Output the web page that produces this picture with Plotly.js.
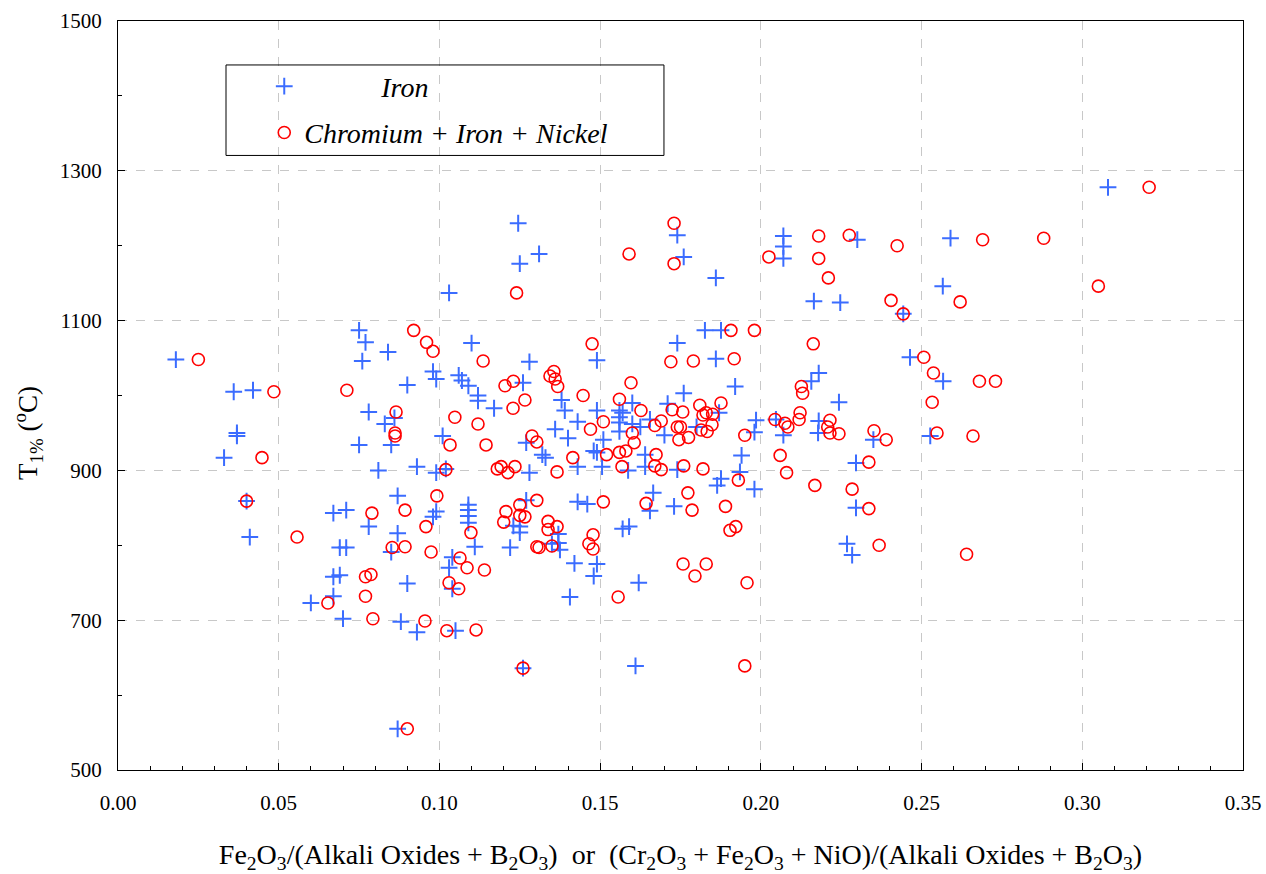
<!DOCTYPE html>
<html>
<head>
<meta charset="utf-8">
<script src="https://cdn.plot.ly/plotly-3.0.1.min.js"></script>
<style>html,body{margin:0;padding:0;background:#fff;}#chart{width:1266px;height:874px;}</style>
</head>
<body>
<div id="chart"></div>
<script>
const ironX = [0.018,0.036,0.042,0.037,0.037,0.033,0.040,0.041,0.060,0.075,0.077,0.076,0.084,0.090,0.078,0.086,0.083,0.075,0.085,0.081,0.093,0.087,0.067,0.071,0.078,0.087,0.069,0.071,0.085,0.067,0.069,0.067,0.070,0.090,0.088,0.087,0.093,0.098,0.099,0.103,0.106,0.107,0.109,0.112,0.112,0.117,0.110,0.101,0.099,0.102,0.099,0.098,0.109,0.109,0.109,0.109,0.111,0.104,0.103,0.104,0.105,0.122,0.123,0.125,0.125,0.1245,0.125,0.131,0.126,0.128,0.127,0.128,0.127,0.132,0.133,0.136,0.138,0.139,0.140,0.143,0.143,0.143,0.146,0.137,0.137,0.1375,0.135,0.142,0.1406,0.126,0.149,0.149,0.151,0.148,0.149,0.1506,0.149,0.148,0.156,0.157,0.156,0.156,0.156,0.160,0.160,0.1625,0.1587,0.157,0.159,0.162,0.161,0.164,0.164,0.1655,0.1665,0.1655,0.170,0.171,0.173,0.174,0.174,0.176,0.174,0.176,0.186,0.1826,0.1876,0.186,0.192,0.187,0.180,0.194,0.1935,0.1876,0.1864,0.1985,0.198,0.198,0.207,0.207,0.207,0.2047,0.207,0.2165,0.2157,0.218,0.218,0.2178,0.2247,0.2243,0.230,0.2296,0.2296,0.2268,0.2284,0.235,0.2443,0.2464,0.2527,0.2566,0.2567,0.259,0.308];
const ironY = [1048,1005,1007,950,946,917,859,811,723,1087,1071,1046,1058,1014,978,970,962,934,934,900,905,866,843,847,825,816,797,797,791,758,760,732,702,749,698,555,684,1032,1022,1137,1027,1020,1013,1000,993,983,1070,946,897,902,845,838,854,847,839,830,798,784,770,742,686,797,826,825,817,1230,1176,1189,1017,1045,937,897,860,921,917,955,994,980,943,965,905,858,855,815,803,794,802,776,731,636,1047,980,941,926,924,905,775,759,980,977,971,964,952,990,962,958,900,822,825,750,639,921,905,968,870,846,947,989,852,901,1214,1185,1070,1003,1157,1087,1087,1049,1012,977,958,920,898,889,880,967,951,875,1213,1199,1183,968,947,1126,1019,1030,966,950,1124,991,1208,910,850,802,787,941,1109,1051,946,1146,1019,1210,1278];

const chromX = [0.025,0.0485,0.0448,0.040,0.0557,0.0712,0.092,0.0865,0.0862,0.0862,0.079,0.0893,0.0853,0.0893,0.077,0.0787,0.077,0.0653,0.0793,0.090,0.096,0.098,0.1136,0.124,0.1048,0.112,0.1033,0.1145,0.102,0.0992,0.0958,0.0974,0.1098,0.1064,0.1086,0.114,0.103,0.106,0.0955,0.1023,0.1114,0.1204,0.123,0.1229,0.1266,0.118,0.1192,0.1213,0.1235,0.120,0.1207,0.125,0.125,0.1266,0.1288,0.1303,0.1303,0.1303,0.131,0.1344,0.1356,0.136,0.1368,0.1366,0.1338,0.1338,0.1366,0.135,0.1415,0.1447,0.147,0.1475,0.151,0.151,0.152,0.1478,0.1465,0.1478,0.126,0.156,0.156,0.158,0.1568,0.1596,0.1627,0.160,0.1606,0.159,0.1556,0.1643,0.1674,0.167,0.169,0.167,0.169,0.1724,0.174,0.1745,0.173,0.173,0.172,0.175,0.1757,0.181,0.1876,0.183,0.185,0.182,0.1848,0.1814,0.1833,0.1775,0.176,0.182,0.1773,0.1786,0.189,0.1904,0.1922,0.1758,0.183,0.1795,0.1957,0.195,0.179,0.1907,0.198,0.1917,0.195,0.193,0.2025,0.2044,0.2075,0.2084,0.206,0.208,0.2163,0.2126,0.213,0.2122,0.2119,0.2168,0.218,0.218,0.221,0.2215,0.2208,0.2215,0.2243,0.2275,0.2284,0.2352,0.239,0.2336,0.2336,0.2368,0.2424,0.2405,0.2443,0.2507,0.2533,0.2537,0.2548,0.262,0.266,0.264,0.268,0.273,0.269,0.288,0.305,0.3208];
const chromY = [1048,1005,917,859,811,1007,1087,978,950,946,843,847,797,798,758,761,732,723,702,555,1071,1059,1046,1137,971,962,934,934,901,866,825,791,817,783,770,767,750,742,699,686,687,1013,1019,983,994,902,905,897,905,831,845,854,840,838,946,938,860,798,797,1026,1032,1022,1012,898,832,821,825,799,917,1000,955,1069,965,858,921,814,802,795,636,995,924,926,905,1017,980,950,937,1189,731,856,921,906,901,960,966,981,958,941,1230,1176,1045,958,978,987,990,977,975,974,961,954,952,944,906,902,870,847,852,820,825,775,775,759,750,639,1046,1087,1087,1049,947,887,1185,968,963,958,920,897,1069,1012,1003,977,968,880,1213,1183,1157,967,958,950,949,1214,875,953,941,911,849,800,1200,1127,1109,1051,991,1030,950,1125,946,788,1019,1019,1208,1210,1146,1278];

const seriesNames = ['\u00A0'.repeat(11) + 'Iron', 'Chromium + Iron + Nickel'];
const xTickVals = [0,0.05,0.10,0.15,0.20,0.25,0.30,0.35];
const xTickText = ['0.00','0.05','0.10','0.15','0.20','0.25','0.30','0.35'];
const yTickVals = [500,700,900,1100,1300,1500];

const FONT = 'Liberation Serif, Times New Roman, serif';

const traces = [
  {x: ironX, y: ironY, type: 'scatter', mode: 'markers', name: seriesNames[0], legendgroup: 'a',
   marker: {symbol: 'cross-thin-open', size: 12, color: '#3b6cff', line: {color: '#3b6cff', width: 2}}},
  {x: chromX, y: chromY, type: 'scatter', mode: 'markers', name: seriesNames[1], legendgroup: 'b',
   marker: {symbol: 'circle-open', size: 12, color: '#ff0000', line: {color: '#ff0000', width: 1.6}}}
];

const axisCommon = {
  showline: true, linecolor: '#000', linewidth: 1, mirror: true,
  ticks: 'inside', ticklen: 7, tickcolor: '#000',
  showgrid: true, gridcolor: '#c8c8c8', griddash: 'dash', gridwidth: 1,
  zeroline: false, tickfont: {family: FONT, size: 21, color: '#000'}
};

const layout = {
  width: 1266, height: 874,
  margin: {l: 118, r: 23, t: 21, b: 104},
  paper_bgcolor: '#fff', plot_bgcolor: '#fff',
  showlegend: true,
  xaxis: Object.assign({}, axisCommon, {
    range: [0, 0.35], tickvals: xTickVals, ticktext: xTickText,
    ticklabelstandoff: 14,
    minor: {dtick: 0.01, ticks: 'inside', ticklen: 4, tickcolor: '#000', showgrid: false},
    title: {text: 'Fe<sub>2</sub>O<sub>3</sub>/(Alkali Oxides + B<sub>2</sub>O<sub>3</sub>)  or  (Cr<sub>2</sub>O<sub>3</sub> + Fe<sub>2</sub>O<sub>3</sub> + NiO)/(Alkali Oxides + B<sub>2</sub>O<sub>3</sub>)',
      font: {family: FONT, size: 28, color: '#000'}, standoff: 31}
  }),
  yaxis: Object.assign({}, axisCommon, {
    range: [500, 1500], tickvals: yTickVals,
    ticklabelstandoff: 11,
    minor: {dtick: 100, ticks: 'inside', ticklen: 4, tickcolor: '#000', showgrid: false}
  }),
  legend: {
    x: 0.13, y: 0.946, xanchor: 'left', yanchor: 'top',
    bgcolor: 'rgba(0,0,0,0)', borderwidth: 0,
    font: {family: FONT, size: 28, color: '#000', style: 'italic'},
    traceorder: 'grouped', tracegroupgap: 7
  },
  shapes: [
    {type: 'rect', xref: 'paper', yref: 'paper', x0: 0.096, x1: 0.4853, y0: 0.8205, y1: 0.9413,
     line: {color: '#000', width: 1}, fillcolor: 'rgba(255,255,255,0)', layer: 'above'}
  ],
  annotations: [
    {xref: 'paper', yref: 'paper', x: -0.08, y: 0.45, xanchor: 'center', yanchor: 'middle', textangle: -90, showarrow: false,
     text: 'T<sub>1%</sub> (<sup>o</sup>C)', font: {family: FONT, size: 27, color: '#000'}}
  ]
};

Plotly.newPlot('chart', traces, layout, {displayModeBar: false, staticPlot: true});
</script>
</body>
</html>
